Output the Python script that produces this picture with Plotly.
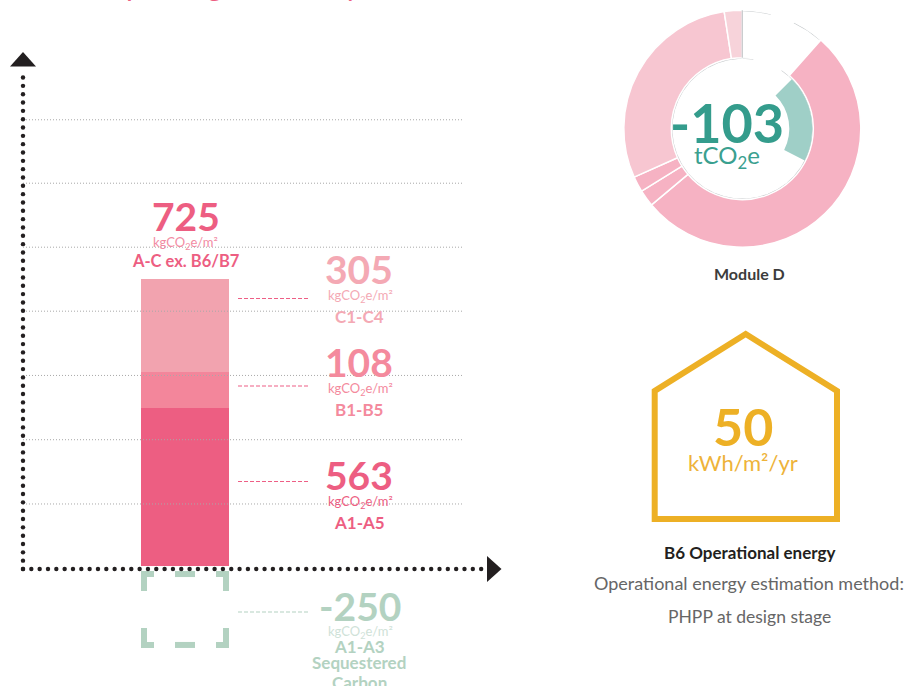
import numpy as np
import plotly.graph_objects as go

W, H = 916, 686
FONT = "Lato"
SCALE = 158 / 563  # px per unit
ZERO_PX = 566

stages = ["A1-A5", "B1-B5", "C1-C4"]
stage_values = ["563", "108", "305"]
bar_heights = [563, 128, 331]
bar_colors = ["#ED5E82", "#F3869B", "#F2A3AF"]
label_colors = ["#ED5E82", "#F48A9D", "#F4A9B4"]
label_y = [475, 362, 269]
leader_y = [481.5, 386, 298.5]
seq_label = "-250"
seq_base = -18
seq_height = -274
seq_color = "#B3D2C1"
grid_values = [221, 450, 679, 908, 1136, 1364, 1590]
bar_center, bar_width = 185, 88

donut_values = [41.5, 188.5, 8.2, 7.7, 105.3, 8.8]
donut_colors = ["rgba(0,0,0,0)", "#F6B2C3", "#F6B2C3", "#F6B2C3", "#F7C6D1", "#F7D3DA"]
inner_values = [72, 288]
inner_colors = ["#9FCFC7", "rgba(0,0,0,0)"]
edge_arcs_outer = [(0, 14), (26, 41)]
edge_arcs_inner = [(0, 9), (34, 41), (41.5, 360)]

cx, cy, R, r = 742.3, 128.7, 118.5, 71


def vy(px):
    return (ZERO_PX - px) / SCALE


fig = go.Figure()

for name, h, c in zip(stages, bar_heights, bar_colors):
    fig.add_trace(go.Bar(x=[bar_center], y=[h], width=[bar_width], name=name, marker=dict(color=c, line_width=0)))

for g in grid_values:
    fig.add_trace(go.Scatter(x=[23, 464], y=[g, g], mode="lines",
                             line=dict(color="#A8A8A8", width=1, dash="1px,2px")))

# sequestered carbon dashed outline
L, Rt = bar_center - bar_width / 2 + 3, bar_center + bar_width / 2 - 3
T, B = seq_base - 3 / SCALE, seq_base + seq_height + 3 / SCALE
lh, lw, mid = 17 / SCALE, 10, 10
sx = [L, L, L + lw, None, bar_center - mid, bar_center + mid, None, Rt - lw, Rt, Rt, None,
      L, L, L + lw, None, bar_center - mid, bar_center + mid, None, Rt - lw, Rt, Rt]
sy = [T - lh, T, T, None, T, T, None, T, T, T - lh, None,
      B + lh, B, B, None, B, B, None, B, B, B + lh]
fig.add_trace(go.Scatter(x=sx, y=sy, mode="lines", connectgaps=False, line=dict(color=seq_color, width=6)))

# leader lines
for y in leader_y:
    fig.add_trace(go.Scatter(x=[238, 309], y=[y, y], yaxis="y2", mode="lines",
                             line=dict(color="#EE5F85", width=1.2, dash="4px,2px")))
fig.add_trace(go.Scatter(x=[238, 309], y=[612, 612], yaxis="y2", mode="lines",
                         line=dict(color=seq_color, width=1.2, dash="4px,2px")))

# dotted axes
ax_y = np.arange(569, 70, -8.33)
ax_x = np.arange(23, 484, 8.33)
fig.add_trace(go.Scatter(x=[23] * len(ax_y), y=ax_y, yaxis="y2", mode="markers",
                         marker=dict(color="#231F20", size=4.4, line_width=0)))
fig.add_trace(go.Scatter(x=ax_x, y=[569] * len(ax_x), yaxis="y2", mode="markers",
                         marker=dict(color="#231F20", size=4.4, line_width=0)))
fig.add_trace(go.Scatter(x=[10, 23, 36, 10], y=[66.5, 52, 66.5, 66.5], yaxis="y2", mode="lines", fill="toself",
                         fillcolor="#231F20", line=dict(width=0)))
fig.add_trace(go.Scatter(x=[487, 501.5, 487, 487], y=[556, 569, 582, 556], yaxis="y2", mode="lines", fill="toself",
                         fillcolor="#231F20", line=dict(width=0)))


def arc(a0, a1, rad):
    t = np.radians(np.arange(a0, a1 + 0.5, 1.0))
    return list(cx + rad * np.sin(t)) + [None], list(cy - rad * np.cos(t)) + [None]


ex, ey = [], []
for a0, a1 in edge_arcs_outer:
    x, y = arc(a0, a1, R - 0.5)
    ex += x
    ey += y
for a0, a1 in edge_arcs_inner:
    x, y = arc(a0, a1, r - 0.5)
    ex += x
    ey += y
fig.add_trace(go.Scatter(x=ex, y=ey, yaxis="y2", mode="lines", line=dict(color="#C4C8CA", width=1.2)))

# house
hx = [654.7, 654.7, 745.7, 837, 837, 654.7, 654.7]
hy = [455, 391, 334, 391, 519, 519, 455]
fig.add_trace(go.Scatter(x=hx, y=hy, yaxis="y2", mode="lines", line=dict(color="#EDB025", width=6)))

fig.add_trace(go.Pie(values=donut_values, sort=False, direction="clockwise", rotation=0, hole=r / R,
                     marker=dict(colors=donut_colors, line=dict(color="white", width=1.5)), textinfo="none",
                     domain=dict(x=[(cx - R) / W, (cx + R) / W], y=[1 - (cy + R) / H, 1 - (cy - R) / H])))
r2o, r2i = 70, 47
fig.add_trace(go.Pie(values=inner_values, sort=False, direction="clockwise", rotation=45, hole=r2i / r2o,
                     marker=dict(colors=inner_colors, line_width=0), textinfo="none",
                     domain=dict(x=[(cx - r2o) / W, (cx + r2o) / W], y=[1 - (cy + r2o) / H, 1 - (cy - r2o) / H])))


def txt(s, x, y, size, color, weight=400, anchor="middle"):
    fig.add_annotation(text=s, xref="paper", yref="paper", x=x / W, y=1 - y / H, showarrow=False,
                       xanchor="center", yanchor=anchor, font=dict(family=FONT, size=size, color=color, weight=weight))


UNIT = "kgCO<sub>2</sub>e/m²"
txt("725", 185.5, 216, 39, "#ED5E82", 700)
txt(UNIT, 185.5, 243, 13, "#F28BA3")
txt("A-C ex. B6/B7", 185.5, 261, 16.5, "#ED5E82", 700)
for s, v, c, y in zip(stages, stage_values, label_colors, label_y):
    txt(v, 359, y, 39, c, 700)
    txt(UNIT, 360, y + 27, 13, c)
    txt(s, 359, y + 47, 17, c, 700)
txt(seq_label, 360, 606, 39, seq_color, 700)
txt(UNIT, 360, 632, 13, "#CFE2D8")
txt("A1-A3", 359, 646, 17, seq_color, 700)
txt("Sequestered", 359, 662, 17, seq_color, 700)
txt("Carbon", 359, 682, 17, seq_color, 700)

txt("-103", 727, 122, 54, "#349C8C", 700)
txt("tCO<sub>2</sub>e", 727, 157, 24, "#3AA08F")
txt("Module D", 749, 273, 16, "#3C3C3C", 700)
txt("50", 742.7, 426, 52, "#EDB025", 700)
txt("kWh/m²/yr", 742.7, 462, 22, "#EEB33A")
txt("B6 Operational energy", 749, 552, 17, "#231F20", 700)
txt("Operational energy estimation method:", 749, 583, 18, "#666666")
txt("PHPP at design stage", 749, 616, 17.5, "#666666")

# only the descenders of the clipped heading reach the picture
for ch, x in zip(["p", "g", "y"], [134, 215, 353]):
    fig.add_annotation(text=ch, xref="paper", yref="paper", x=x / W, y=1 + 16 / H, showarrow=False,
                       xanchor="center", yanchor="middle", font=dict(family=FONT, size=30, color="#ED5E82"))

fig.update_layout(
    width=W, height=H, margin=dict(l=0, r=0, t=0, b=0), barmode="stack", showlegend=False,
    paper_bgcolor="white", plot_bgcolor="white",
    xaxis=dict(range=[0, W], visible=False, fixedrange=True),
    yaxis=dict(range=[vy(H), vy(0)], visible=False, fixedrange=True),
    yaxis2=dict(range=[H, 0], visible=False, overlaying="y", fixedrange=True),
    shapes=[dict(type="line", xref="x", yref="y2", x0=cx, x1=cx, y0=cy - R, y1=cy - r,
                 line=dict(color="#C4C8CA", width=1.2), layer="above")],
)
fig.write_html("out.html", config={"displayModeBar": False},
               post_script="document.body.style.margin='0';document.documentElement.style.overflow='hidden';")
